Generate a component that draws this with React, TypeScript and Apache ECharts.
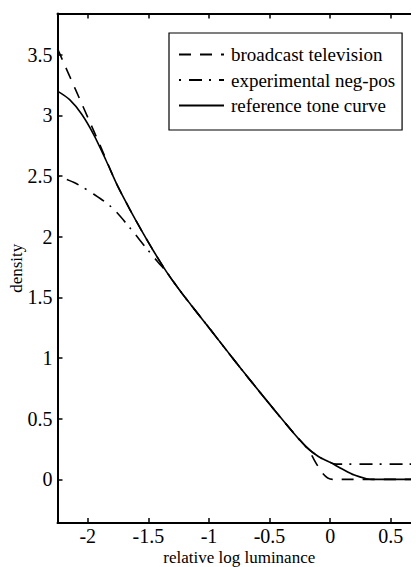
import React, { useEffect, useRef } from "react";
import * as echarts from "echarts";

const seriesNames = ["broadcast television", "experimental neg-pos", "reference tone curve"];

const xBroadcast = [-2.25, -2.1, -1.95, -1.88, -1.8, -1.75, -1.65, -1.55, -1.45, -1.35, -1.25, -1.15, -1.0, -0.75, -0.5, -0.3, -0.2, 0.02, 0.75];
const yBroadcast = [3.55, 3.21, 2.87, 2.71, 2.52, 2.41, 2.22, 2.04, 1.87, 1.71, 1.57, 1.44, 1.25, 0.93, 0.62, 0.38, 0.27, 0.0, 0.0];

const xNegPos = [-2.25, -2.1, -1.95, -1.8, -1.65, -1.5, -1.42, -1.35, -1.25, -1.15, -1.0, -0.75, -0.5, -0.3, -0.2, -0.1, 0.0, 0.05, 0.75];
const yNegPos = [2.5, 2.44, 2.35, 2.24, 2.07, 1.885, 1.79, 1.71, 1.57, 1.44, 1.25, 0.93, 0.62, 0.38, 0.27, 0.19, 0.14, 0.125, 0.125];

const xTone = [-2.25, -2.15, -2.05, -1.95, -1.85, -1.75, -1.65, -1.55, -1.45, -1.35, -1.25, -1.15, -1.0, -0.75, -0.5, -0.3, -0.2, -0.1, 0.0, 0.1, 0.2, 0.3, 0.35, 0.75];
const yTone = [3.2, 3.13, 3.01, 2.84, 2.63, 2.41, 2.22, 2.04, 1.87, 1.71, 1.57, 1.44, 1.25, 0.93, 0.62, 0.38, 0.27, 0.19, 0.14, 0.085, 0.035, 0.005, 0.0, 0.0];

const xMin = -2.25;
const xMax = 0.75;
const yMin = -0.36;
const yMax = 3.84;

const pairs = (xs: number[], ys: number[]) => xs.map((x, i) => [x, ys[i]]);

const FONT = "'Liberation Serif', 'DejaVu Serif', serif";

export default function App() {
  const ref = useRef<HTMLDivElement>(null);
  useEffect(() => {
    if (!ref.current) return;
    const chart = echarts.init(ref.current, undefined, { renderer: "svg" });
    const axisLine = { onZero: false, lineStyle: { color: "#000", width: 2 } };
    const axisTick = { inside: true, length: 5, lineStyle: { color: "#000", width: 1.5 } };
    const labelStyle = { color: "#000", fontFamily: FONT, fontSize: 20 };
    const lineBase = { color: "#000", width: 1.6 };
    chart.setOption({
      animation: false,
      backgroundColor: "#fff",
      grid: { left: 49.5, top: 5.5, right: -2, bottom: 44, containLabel: false, outerBoundsMode: "none" },
      legend: {
        left: 161,
        top: 25,
        orient: "vertical",
        data: seriesNames,
        itemWidth: 45,
        itemHeight: 14,
        itemGap: 6.5,
        padding: [12, 7, 15, 9],
        borderColor: "#000",
        borderWidth: 1.2,
        backgroundColor: "#fff",
        itemStyle: { opacity: 0 },
        textStyle: { color: "#000", fontFamily: FONT, fontSize: 19, padding: [0, 0, 0, 2] },
      },
      xAxis: [
        {
          type: "value",
          position: "bottom",
          min: xMin,
          max: xMax,
          splitNumber: 6,
          axisLine,
          axisTick,
          splitLine: { show: false },
          axisLabel: { ...labelStyle, margin: 3, showMinLabel: false, showMaxLabel: false },
          name: "relative log luminance",
          nameLocation: "middle",
          nameGap: 26,
          nameMoveOverlap: false,
          nameTextStyle: { color: "#000", fontFamily: FONT, fontSize: 17 },
        },
        {
          type: "value",
          position: "top",
          min: xMin,
          max: xMax,
          splitNumber: 6,
          axisLine,
          axisTick,
          splitLine: { show: false },
          axisLabel: { show: false },
        },
      ],
      yAxis: [
        {
          type: "value",
          position: "left",
          min: yMin,
          max: yMax,
          splitNumber: 8,
          axisLine,
          axisTick,
          splitLine: { show: false },
          axisLabel: { ...labelStyle, margin: 5, showMinLabel: false, showMaxLabel: false },
          name: "density",
          nameLocation: "middle",
          nameGap: 33,
          nameMoveOverlap: false,
          nameTextStyle: { color: "#000", fontFamily: FONT, fontSize: 17 },
        },
        {
          type: "value",
          position: "right",
          min: yMin,
          max: yMax,
          splitNumber: 8,
          axisLine,
          axisTick,
          splitLine: { show: false },
          axisLabel: { show: false },
        },
      ],
      series: [
        {
          name: seriesNames[0],
          type: "line",
          data: pairs(xBroadcast, yBroadcast),
          symbol: "none",
          smooth: 0.3,
          lineStyle: { ...lineBase, type: [12, 9] },
        },
        {
          name: seriesNames[1],
          type: "line",
          data: pairs(xNegPos, yNegPos),
          symbol: "none",
          smooth: 0.3,
          lineStyle: { ...lineBase, type: [2, 8, 13, 7] },
        },
        {
          name: seriesNames[2],
          type: "line",
          data: pairs(xTone, yTone),
          symbol: "none",
          smooth: 0.3,
          lineStyle: { ...lineBase, type: "solid" },
        },
      ],
    });
    return () => chart.dispose();
  }, []);
  return <div ref={ref} style={{ width: 411, height: 559 }} />;
}
